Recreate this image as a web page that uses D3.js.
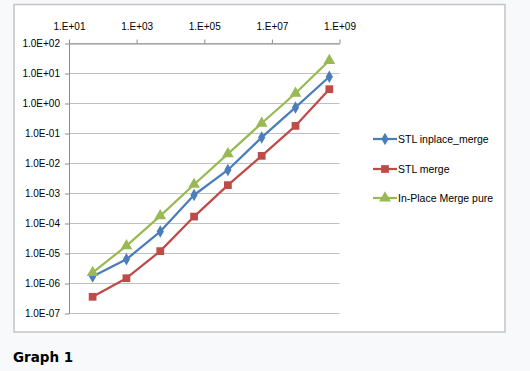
<!DOCTYPE html>
<html><head><meta charset="utf-8">
<script src="https://cdn.jsdelivr.net/npm/d3@7"></script>
<style>
html,body{margin:0;padding:0;background:#f8f9fb;}
svg{display:block;}
</style></head>
<body>
<svg id="c" width="530" height="371"></svg>
<script>
const xValues = [50, 500, 5e3, 5e4, 5e5, 5e6, 5e7, 5e8];
const seriesNames = ["STL inplace_merge", "STL merge", "In-Place Merge pure"];
const inplaceMerge = [1.7e-6, 6.4e-6, 5.4e-5, 8.9e-4, 6.1e-3, 0.074, 0.74, 7.8];
const stlMerge = [3.6e-7, 1.5e-6, 1.2e-5, 1.7e-4, 1.9e-3, 0.018, 0.18, 3.0];
const inPlacePure = [2.3e-6, 1.8e-5, 1.8e-4, 2.0e-3, 0.021, 0.22, 2.2, 27];
const xTicks = [1e1, 1e3, 1e5, 1e7, 1e9];
const xTickLabels = ["1.E+01", "1.E+03", "1.E+05", "1.E+07", "1.E+09"];
const yTicks = [1e2, 1e1, 1e0, 1e-1, 1e-2, 1e-3, 1e-4, 1e-5, 1e-6, 1e-7];
const yTickLabels = ["1.0E+02", "1.0E+01", "1.0E+00", "1.0E-01", "1.0E-02", "1.0E-03", "1.0E-04", "1.0E-05", "1.0E-06", "1.0E-07"];
const colors = ["#4a7ebb", "#be4b48", "#98b954"];
const shapes = [d3.symbolDiamond, d3.symbolSquare, d3.symbolTriangle];

const svg = d3.select("#c");
const font = "'Liberation Sans Narrow','Liberation Sans',Arial,sans-serif";

// chart frame
svg.append("rect").attr("x", 14).attr("y", 4.5).attr("width", 491).attr("height", 327.5)
  .attr("fill", "#fff").attr("stroke", "#c4c4c4").attr("stroke-width", 1.5);

const x = d3.scaleLog().domain([1e1, 1e9]).range([69, 339.5]);
const y = d3.scaleLog().domain([1e-7, 1e2]).range([313.5, 43.5]);

// gridlines
svg.append("g").selectAll("line").data(yTicks).join("line")
  .attr("x1", 69).attr("x2", 339.5)
  .attr("y1", d => y(d)).attr("y2", d => y(d))
  .attr("stroke", "#c0c0c0").attr("stroke-width", 1);

// x axis (top)
const xAxis = d3.axisTop(x).tickValues(xTicks).tickSize(4).tickSizeOuter(0).tickPadding(10)
  .tickFormat((d, i) => xTickLabels[i]);
const gx = svg.append("g").attr("transform", `translate(0,${y(1e2)})`).call(xAxis);
gx.select(".domain").attr("stroke", "#8c8c8c");
gx.selectAll(".tick line").attr("stroke", "#8c8c8c");
gx.selectAll("text").attr("font-family", font).attr("font-size", 10).attr("fill", "#000");

// y axis
const yAxis = d3.axisLeft(y).tickValues(yTicks).tickSize(4).tickSizeOuter(0).tickPadding(5)
  .tickFormat((d, i) => yTickLabels[i]);
const gy = svg.append("g").attr("transform", `translate(${x(1e1)},0)`).call(yAxis);
gy.select(".domain").attr("stroke", "#8c8c8c");
gy.selectAll(".tick line").attr("stroke", "#8c8c8c");
gy.selectAll("text").attr("font-family", font).attr("font-size", 10).attr("fill", "#000");

const allSeries = [inplaceMerge, stlMerge, inPlacePure];
const line = d3.line().x(d => x(d[0])).y(d => y(d[1]));
const symSizes = [45, 60, 60];

allSeries.forEach((vals, si) => {
  const pts = xValues.map((xv, i) => [xv, vals[i]]);
  const g = svg.append("g");
  g.append("path").datum(pts).attr("d", line).attr("fill", "none")
    .attr("stroke", colors[si]).attr("stroke-width", 2.25).attr("stroke-linejoin", "round");
  g.selectAll("path.m").data(pts).join("path").attr("class", "m")
    .attr("transform", d => `translate(${x(d[0])},${y(d[1])})`)
    .attr("d", d3.symbol().type(shapes[si]).size(symSizes[si]))
    .attr("fill", colors[si]);
});

// legend
const legY = [139, 169, 198];
seriesNames.forEach((name, i) => {
  const g = svg.append("g").attr("transform", `translate(373,${legY[i]})`);
  g.append("line").attr("x1", 0).attr("x2", 24).attr("y1", 0).attr("y2", 0)
    .attr("stroke", colors[i]).attr("stroke-width", 2.25);
  g.append("path").attr("transform", "translate(12,0)")
    .attr("d", d3.symbol().type(shapes[i]).size(symSizes[i])).attr("fill", colors[i]);
  g.append("text").attr("x", 25).attr("y", 0).attr("dy", "0.35em")
    .attr("font-family", font).attr("font-size", 10.5).attr("fill", "#000").text(name);
});

// caption
svg.append("text").attr("x", 13).attr("y", 362)
  .attr("font-family", "'DejaVu Sans',Verdana,sans-serif").attr("font-weight", "bold")
  .attr("font-size", 13.5).attr("fill", "#000").text("Graph 1");
</script>
</body></html>
